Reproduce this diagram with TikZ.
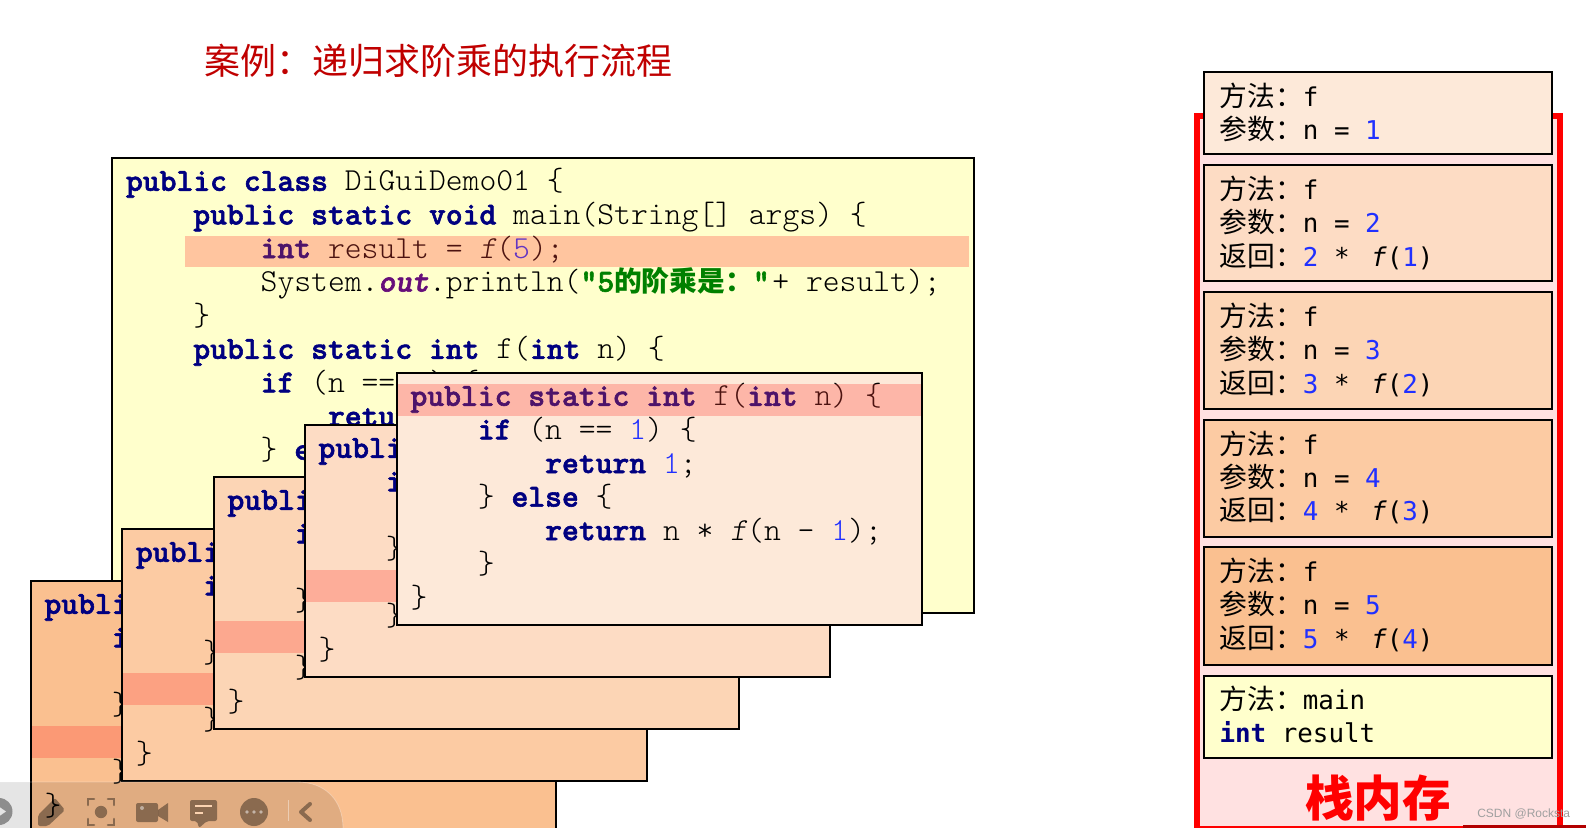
\documentclass[tikz,border=0pt]{standalone}
\usepackage{fontspec}
\newfontfamily\cjkf{Noto Sans CJK SC}
\newfontfamily\djm{DejaVu Sans Mono}
\newfontfamily\wmf{Liberation Sans}
\setmonofont{lmmonolt10-regular.otf}[ItalicFont=lmmonolt10-oblique.otf,BoldFont=lmmonolt10-bold.otf,BoldItalicFont=lmmonolt10-boldoblique.otf,BoldFeatures={FakeBold=1.8},BoldItalicFeatures={FakeBold=1.8}]
\definecolor{kwnavy}{HTML}{000080}
\definecolor{numblue}{HTML}{2030FF}
\definecolor{strgreen}{HTML}{008000}
\definecolor{outpurple}{HTML}{660E7A}
\definecolor{mainbg}{HTML}{FFFFCC}
\definecolor{fa}{HTML}{FAC090}
\definecolor{fb}{HTML}{FCCBA3}
\definecolor{fc}{HTML}{FCD5B5}
\definecolor{fd}{HTML}{FDDCC4}
\definecolor{fe}{HTML}{FDE9D9}
\definecolor{hilite}{RGB}{255,65,56}
\definecolor{stackpink}{HTML}{FFE1E1}
\definecolor{titlered}{HTML}{C00000}
\newcommand\kwd[1]{{\bfseries\color{kwnavy}#1}}
\newcommand\nmb[1]{{\color{numblue}#1}}
\newcommand\itf[1]{{\itshape #1}}
\tikzset{
  boxed/.style={draw=black,line width=1.5pt,anchor=north west,inner sep=0pt,outer sep=0pt},
  frameb/.style={boxed,minimum width=393.75pt,minimum height=189pt},
  codeln/.style={anchor=base west,inner sep=0pt,outer sep=0pt,font=\ttfamily\fontsize{24.05}{30}\selectfont,text=black},
  stackln/.style={anchor=base west,inner sep=0pt,outer sep=0pt,font=\djm\fontsize{19.4}{24}\selectfont,text=black},
  hl/.style={fill=hilite,fill opacity=.3},
  ic/.style={fill=black,fill opacity=.38},
  icl/.style={draw=black,draw opacity=.38,line width=1.9pt},
}
\newcommand\cjs[1]{{\cjkf\fontsize{20.85}{24}\selectfont #1}}
\newcommand\stf[1]{\hspace{4.5pt}{\itshape f}(\nmb{#1})}
% frame: name, left, top, fill, highlight top offset
\newcommand\codeframe[5]{%
  \node[frameb,fill=#4] (#1) at (#2,#3) {};
  \node[codeln] (#1a) at ({#2+13.5},{#3+32.8}) {\kwd{public}~\kwd{static}~\kwd{int}~f(\kwd{int}~n)~\{};
  \node[codeln] (#1b) at ({#2+13.5},{#3+66.4}) {~~~~\kwd{if}~(n~==~\nmb{1})~\{};
  \node[codeln] (#1c) at ({#2+13.5},{#3+100}) {~~~~~~~~\kwd{return}~\nmb{1};};
  \node[codeln] (#1d) at ({#2+13.5},{#3+133.6}) {~~~~\}~\kwd{else}~\{};
  \node[codeln] (#1e) at ({#2+13.5},{#3+167.2}) {~~~~~~~~\kwd{return}~n~*~\itf{f}(n~-~\nmb{1});};
  \node[codeln] (#1f) at ({#2+13.5},{#3+200.8}) {~~~~\}};
  \node[codeln] (#1g) at ({#2+13.5},{#3+234.4}) {\}};
  \fill[hl] ({#2+1},{#3+#5}) rectangle ({#2+524},{#3+#5+32});
}
\newcommand\stackbox[5]{% name, top, bottom, fill, unused
  \node[boxed,fill=#4,minimum width=261pt,minimum height={(#3-#2)*.75pt}] (#1) at (1203.5,#2) {};
}
\begin{document}
\begin{tikzpicture}[x=.75pt,y=-.75pt]
\useasboundingbox (0,0) rectangle (1586,828);
\fill[white] (0,0) rectangle (1586,828);
\clip (0,0) rectangle (1586,828);

\node[anchor=west,inner sep=0pt,text=titlered,font=\cjkf\fontsize{27}{30}\selectfont] (title) at (204,61) {案例：递归求阶乘的执行流程};

% main code box
\node[boxed,fill=mainbg,minimum width=646.5pt,minimum height=341.7pt] (mainbox) at (112,157.8) {};
\node[codeln] (m1) at (126,190.8) {\kwd{public}~\kwd{class}~DiGuiDemo01~\{};
\node[codeln] (m2) at (126,224.4) {~~~~\kwd{public}~\kwd{static}~\kwd{void}~main(String[]~args)~\{};
\node[codeln] (m3) at (126,258) {~~~~~~~~\kwd{int}~result~=~\itf{f}(\nmb{5});};
\node[codeln] (m4) at (126,291.6) {~~~~~~~~System.{\bfseries\itshape\color{outpurple}out}.println({\bfseries\color{strgreen}"5{\cjkf\fontsize{20.8}{24}\selectfont 的阶乘是：}"}\hspace{2pt}+~result);};
\node[codeln] (m5) at (126,325.2) {~~~~\}};
\node[codeln] (m6) at (126,358.8) {~~~~\kwd{public}~\kwd{static}~\kwd{int}~f(\kwd{int}~n)~\{};
\node[codeln] (m7) at (126,392.4) {~~~~~~~~\kwd{if}~(n~==~\nmb{1})~\{};
\node[codeln] (m8) at (126,426) {~~~~~~~~~~~~\kwd{return}~\nmb{1};};
\node[codeln] (m9) at (126,459.6) {~~~~~~~~\}~\kwd{else}~\{};
\fill[hl] (185,236) rectangle (969,266.7);

% stacked frames
\codeframe{fone}{31}{581}{fa}{145}
\codeframe{ftwo}{122.4}{529}{fb}{143.5}
\codeframe{fthree}{214}{477}{fc}{144}
\codeframe{ffour}{305}{425}{fd}{145}
\codeframe{ffive}{397}{373}{fe}{11}

% stack memory
\draw[red,line width=4.5pt,fill=stackpink] (1197,116) rectangle (1560,829);
\stackbox{sa}{72}{154}{fe}{}
\node[stackln] at (1219.5,106) (sa1) {\cjs{方法：}f};
\node[stackln] at (1219.5,139.3) (sa2) {\cjs{参数：}n~=~\nmb{1}};
\stackbox{sb}{165}{281}{fd}{}
\node[stackln] at (1219.5,199.3) (sb1) {\cjs{方法：}f};
\node[stackln] at (1219.5,232.6) (sb2) {\cjs{参数：}n~=~\nmb{2}};
\node[stackln] at (1219.5,266) (sb3) {\cjs{返回：}\nmb{2}~*~\stf{1}};
\stackbox{sc}{292.3}{408.6}{fc}{}
\node[stackln] at (1219.5,326.6) (sc1) {\cjs{方法：}f};
\node[stackln] at (1219.5,359.9) (sc2) {\cjs{参数：}n~=~\nmb{3}};
\node[stackln] at (1219.5,393.3) (sc3) {\cjs{返回：}\nmb{3}~*~\stf{2}};
\stackbox{sd}{419.8}{537}{fb}{}
\node[stackln] at (1219.5,454.1) (sd1) {\cjs{方法：}f};
\node[stackln] at (1219.5,487.4) (sd2) {\cjs{参数：}n~=~\nmb{4}};
\node[stackln] at (1219.5,520.8) (sd3) {\cjs{返回：}\nmb{4}~*~\stf{3}};
\stackbox{se}{547.2}{664.6}{fa}{}
\node[stackln] at (1219.5,581.5) (se1) {\cjs{方法：}f};
\node[stackln] at (1219.5,614.8) (se2) {\cjs{参数：}n~=~\nmb{5}};
\node[stackln] at (1219.5,648.2) (se3) {\cjs{返回：}\nmb{5}~*~\stf{4}};
\stackbox{sf}{675.7}{757.7}{mainbg}{}
\node[stackln] at (1219.5,709.6) (sf1) {\cjs{方法：}main};
\node[stackln] at (1219.5,742.8) (sf2) {{\bfseries\color{kwnavy}int}~result};
\node[inner sep=0pt,text=red,font=\cjkf\bfseries\fontsize{36.5}{40}\selectfont] (stacklabel) at (1378,798.5) {栈内存};

% watermark & bottom strip
\fill[white] (1563,780) rectangle (1586,828);
\fill[red!70!black] (1463,825) rectangle (1586,828);
\node[anchor=base west,inner sep=0pt,text=gray!75,font=\wmf\fontsize{9}{11}\selectfont] (wm) at (1477,817) {CSDN @Rocksta};

% floating toolbar
\fill[black,fill opacity=.1] (0,782) -- (297,782) .. controls (325,782) and (343,800) .. (343,828) -- (0,828) -- cycle;
\draw[white,draw opacity=.3,line width=.6pt] (0,782) -- (297,782) .. controls (325,782) and (343,800) .. (343,828);
\fill[ic] (-1,811.5) circle (13.5);
\fill[black!10] (-2,806) -- (6,811.5) -- (-2,817) -- cycle;
\fill[ic,rounded corners=1.5pt] (38,815) -- (55,798) -- (65,810) -- (48,826) -- (38,826) -- cycle;
\draw[icl,line cap=round] (88,805) -- (88,799) -- (94,799);
\draw[icl,line cap=round] (108,799) -- (114,799) -- (114,805);
\draw[icl,line cap=round] (88,819) -- (88,825) -- (94,825);
\draw[icl,line cap=round] (108,825) -- (114,825) -- (114,819);
\fill[ic] (101,812) circle (6.2);
\fill[ic,rounded corners=1.5pt] (136,803) rectangle (158,822);
\fill[ic] (158,810) -- (168,803) -- (168,822) -- (158,816) -- cycle;
\fill[white,fill opacity=.45] (142,808) circle (2);
\fill[ic,rounded corners=1.5pt] (190,800) -- (217,800) -- (217,821) -- (207,821) -- (199,828) -- (197,821) -- (190,821) -- cycle;
\draw[fa!70!white,line width=.8pt] (195,806) -- (212,806) (195,813) -- (203,813);
\fill[ic] (254,812) circle (14);
\fill[white,fill opacity=.5] (247,812) circle (1.8) (254,812) circle (1.8) (261,812) circle (1.8);
\draw[white,draw opacity=.4,line width=.6pt] (288,800) -- (288,821);
\draw[black,draw opacity=.38,line width=3pt,line cap=round,line join=round] (310,804) -- (301,812) -- (310,820);
\end{tikzpicture}
\end{document}
